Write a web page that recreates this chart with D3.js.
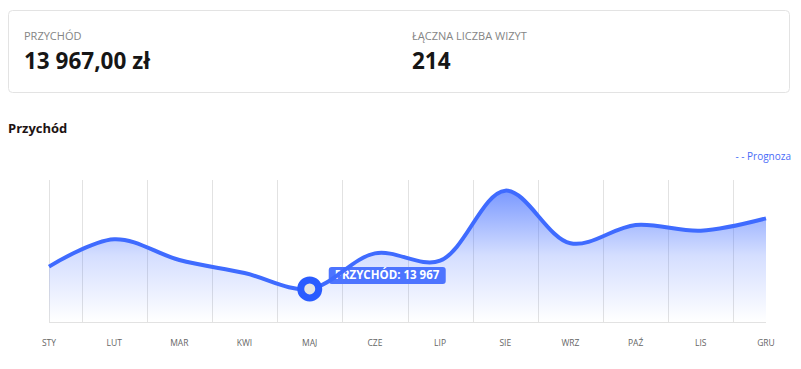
<!DOCTYPE html>
<html>
<head>
<meta charset="utf-8">
<script src="https://cdn.jsdelivr.net/npm/d3@7"></script>
<style>
  body { margin: 0; background: #fff; font-family: "Open Sans", "Noto Sans", sans-serif; }
</style>
</head>
<body>
<div id="chart"></div>
<script>
const months = ["STY", "LUT", "MAR", "KWI", "MAJ", "CZE", "LIP", "SIE", "WRZ", "PAŹ", "LIS", "GRU"];
const revenue = [23400, 35000, 26200, 20700, 13967, 29000, 25900, 55500, 33250, 41000, 38600, 43800];
const kpiLabels = ["PRZYCHÓD", "ŁĄCZNA LICZBA WIZYT"];
const kpiValues = ["13 967,00 zł", "214"];
const highlight = 4; // MAJ

const width = 801, height = 369;
const blue = "#3f6bff";

const svg = d3.select("#chart").append("svg")
  .attr("width", width)
  .attr("height", height);

// KPI card
svg.append("rect")
  .attr("x", 8.5).attr("y", 10.5)
  .attr("width", 781).attr("height", 82)
  .attr("rx", 4)
  .attr("fill", "#fff")
  .attr("stroke", "#e3e3e3");

const kpiX = [24, 412];
kpiLabels.forEach(function(d, i) {
  svg.append("text")
    .attr("x", kpiX[i]).attr("y", 39.5)
    .attr("font-size", 11)
    .attr("fill", "#858585")
    .text(d);
  svg.append("text")
    .attr("x", kpiX[i]).attr("y", 69)
    .attr("font-size", 22.5)
    .attr("font-weight", 700)
    .attr("fill", "#161616")
    .text(kpiValues[i]);
});

// title + legend
svg.append("text")
  .attr("x", 8).attr("y", 133)
  .attr("font-size", 13)
  .attr("font-weight", 700)
  .attr("fill", "#1e1414")
  .text("Przychód");

svg.append("text")
  .attr("x", 791).attr("y", 160)
  .attr("text-anchor", "end")
  .attr("font-size", 10)
  .attr("fill", "#4a6cf7")
  .text("- - Prognoza");

// scales
const x = d3.scalePoint().domain(months).range([49, 766]);
const y = d3.scaleLinear().domain([0, 60000]).range([322, 180]);
const step = x.step();

const defs = svg.append("defs");
const grad = defs.append("linearGradient")
  .attr("id", "fillGrad")
  .attr("gradientUnits", "userSpaceOnUse")
  .attr("x1", 0).attr("x2", 0)
  .attr("y1", y(56000)).attr("y2", y(0));
grad.append("stop").attr("offset", 0).attr("stop-color", blue).attr("stop-opacity", 0.7);
grad.append("stop").attr("offset", 0.5).attr("stop-color", blue).attr("stop-opacity", 0.22);
grad.append("stop").attr("offset", 1).attr("stop-color", blue).attr("stop-opacity", 0.0);

// grid lines: left edge and between months
const gridX = [x(months[0])].concat(months.slice(0, -1).map(function(m) { return x(m) + step / 2; }));
svg.append("g").selectAll("line")
  .data(gridX)
  .join("line")
  .attr("x1", function(d) { return Math.round(d) + 0.5; })
  .attr("x2", function(d) { return Math.round(d) + 0.5; })
  .attr("y1", y(60000)).attr("y2", y(0))
  .attr("stroke", "#e2e2e2");

svg.append("line")
  .attr("x1", 49).attr("x2", 766)
  .attr("y1", y(0) + 0.5).attr("y2", y(0) + 0.5)
  .attr("stroke", "#e2e2e2");

// x axis labels
svg.append("g").selectAll("text")
  .data(months)
  .join("text")
  .attr("x", function(d) { return x(d); })
  .attr("y", 346)
  .attr("text-anchor", "middle")
  .attr("font-size", 8.5)
  .attr("fill", "#666")
  .text(function(d) { return d; });

const pts = months.map(function(m, i) { return [x(m), y(revenue[i])]; });
const curve = d3.curveCatmullRom.alpha(0.5);

svg.append("path")
  .datum(pts)
  .attr("fill", "url(#fillGrad)")
  .attr("d", d3.area().x(function(d) { return d[0]; }).y0(y(0)).y1(function(d) { return d[1]; }).curve(curve));

// tooltip (sits under the line)
const hx = x(months[highlight]), hy = y(revenue[highlight]);
const tip = svg.append("g");
tip.append("rect")
  .attr("x", hx + 19).attr("y", hy - 22)
  .attr("width", 117).attr("height", 17)
  .attr("rx", 3)
  .attr("fill", "#4d74ff");
tip.append("text")
  .attr("x", hx + 25).attr("y", hy - 9.5)
  .attr("font-size", 11.5)
  .attr("font-weight", 700)
  .attr("fill", "#fff")
  .text("PRZYCHÓD: " + d3.format(",")(revenue[highlight]).replace(/,/g, " "));

svg.append("path")
  .datum(pts)
  .attr("fill", "none")
  .attr("stroke", blue)
  .attr("stroke-width", 4)
  .attr("d", d3.line().curve(curve));

svg.append("circle")
  .attr("cx", hx).attr("cy", hy)
  .attr("r", 9)
  .attr("fill", "#e4e4e4")
  .attr("stroke", "#2a5cff")
  .attr("stroke-width", 7);
</script>
</body>
</html>
